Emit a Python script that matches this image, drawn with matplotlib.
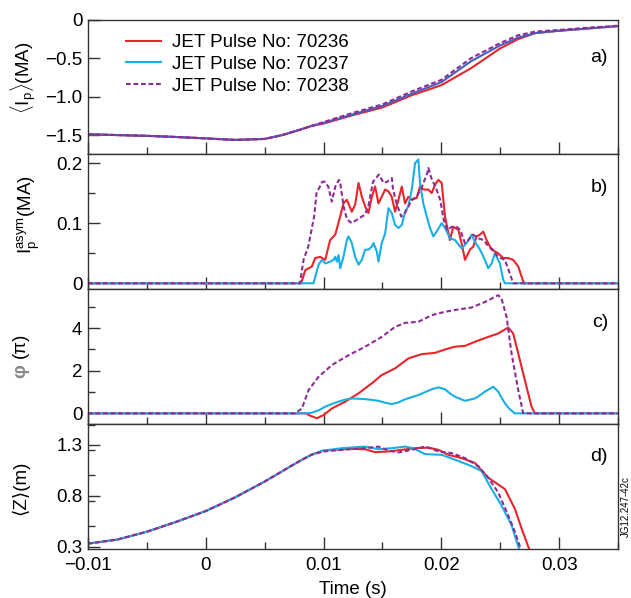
import matplotlib
matplotlib.use("Agg")
import matplotlib.pyplot as plt
from matplotlib.ticker import FixedLocator, MultipleLocator, FixedFormatter

plt.rcParams['font.family'] = ['Liberation Sans', 'DejaVu Sans']
plt.rcParams['mathtext.fontset'] = 'custom'
plt.rcParams['mathtext.rm'] = 'Liberation Sans'
plt.rcParams['mathtext.it'] = 'Liberation Sans:italic'

RED = '#e8252b'
CYAN = '#1aaee6'
PURPLE = '#8e2c96'
BLUE_A = '#4660c0'

pulses = ['70236', '70237', '70238']

# ---- panel a: <Ip> (MA)
a_t_common = [-0.01, -0.0075, -0.005, -0.0025, 0, 0.0025, 0.005, 0.0065, 0.008, 0.009]
a_v_common = [-1.49, -1.50, -1.51, -1.525, -1.543, -1.563, -1.55, -1.50, -1.43, -1.38]
a_t = [0.01, 0.0125, 0.015, 0.0175, 0.02, 0.0225, 0.025, 0.0265, 0.028, 0.03, 0.0325, 0.035]
a_236 = [-1.35, -1.24, -1.14, -0.98, -0.85, -0.63, -0.37, -0.25, -0.17, -0.14, -0.11, -0.08]
a_237 = [-1.34, -1.23, -1.12, -0.96, -0.81, -0.54, -0.33, -0.23, -0.17, -0.14, -0.11, -0.08]
a_238 = [-1.33, -1.21, -1.10, -0.93, -0.78, -0.50, -0.30, -0.20, -0.15, -0.13, -0.10, -0.075]

# ---- panel b: Ip asym (MA)
b_t_236 = [-0.01, 0.0081, 0.00845, 0.00873, 0.00901, 0.00929, 0.00972, 0.01014, 0.01056, 0.01099,
           0.01141, 0.01169, 0.01198, 0.0124, 0.01268, 0.01297, 0.01325, 0.01353, 0.01381, 0.0141,
           0.01438, 0.01466, 0.01494, 0.01523, 0.01551, 0.01579, 0.01607, 0.01636, 0.01664, 0.01692,
           0.0172, 0.01749, 0.01791, 0.01819, 0.01847, 0.0189, 0.01918, 0.01946, 0.01975, 0.02003,
           0.02031, 0.02073, 0.02102, 0.02144, 0.02172, 0.02201, 0.02243, 0.02271, 0.02299, 0.02328,
           0.02356, 0.02384, 0.02427, 0.02483, 0.02525, 0.02568, 0.0261, 0.02653, 0.02695, 0.02709, 0.035]
b_236 = [0, 0, 0.022, 0.025, 0.028, 0.042, 0.044, 0.039, 0.072, 0.081,
         0.111, 0.133, 0.139, 0.119, 0.131, 0.167, 0.144, 0.128, 0.117, 0.144,
         0.161, 0.133, 0.144, 0.156, 0.153, 0.144, 0.119, 0.139, 0.161, 0.133,
         0.144, 0.139, 0.142, 0.161, 0.156, 0.156, 0.150, 0.164, 0.172, 0.167,
         0.111, 0.072, 0.094, 0.089, 0.067, 0.039, 0.056, 0.061, 0.078, 0.081,
         0.086, 0.072, 0.056, 0.050, 0.042, 0.042, 0.039, 0.028, 0.003, 0, 0]
b_t_237 = [-0.01, 0.00915, 0.00958, 0.00986, 0.01014, 0.01056, 0.01085, 0.01099, 0.01113, 0.01127,
           0.01141, 0.01169, 0.01198, 0.01212, 0.0124, 0.01268, 0.01297, 0.01325, 0.01353, 0.01381,
           0.0141, 0.01424, 0.01452, 0.01466, 0.01494, 0.01523, 0.01551, 0.01579, 0.01607, 0.01636,
           0.01664, 0.01692, 0.0172, 0.01749, 0.01777, 0.01805, 0.01819, 0.01847, 0.01876, 0.01904,
           0.01932, 0.0196, 0.02003, 0.02031, 0.02073, 0.02116, 0.02172, 0.02215, 0.02257, 0.02285,
           0.02328, 0.0237, 0.02398, 0.02427, 0.02455, 0.02497, 0.02525, 0.0254, 0.035]
b_237 = [0, 0, 0.031, 0.039, 0.033, 0.036, 0.039, 0.044, 0.036, 0.047,
         0.025, 0.044, 0.072, 0.078, 0.067, 0.044, 0.031, 0.039, 0.056, 0.056,
         0.061, 0.067, 0.053, 0.036, 0.067, 0.083, 0.125, 0.117, 0.097, 0.092,
         0.097, 0.119, 0.128, 0.156, 0.200, 0.206, 0.167, 0.133, 0.111, 0.092,
         0.078, 0.086, 0.100, 0.092, 0.075, 0.072, 0.058, 0.067, 0.081, 0.069,
         0.056, 0.039, 0.025, 0.033, 0.050, 0.033, 0.006, 0, 0]
b_t_238 = [-0.01, 0.0080, 0.0083, 0.0087, 0.0092, 0.0094, 0.0099, 0.0101, 0.0104, 0.0107,
           0.0110, 0.0113, 0.0114, 0.0117, 0.0120, 0.0124, 0.0130, 0.0135, 0.0138, 0.0142,
           0.0147, 0.0151, 0.0154, 0.0158, 0.0159, 0.0162, 0.0166, 0.0169, 0.0175, 0.0179,
           0.0183, 0.0188, 0.0189, 0.0192, 0.0195, 0.0199, 0.0202, 0.0205, 0.0209, 0.0213,
           0.0216, 0.0220, 0.0223, 0.0227, 0.0231, 0.0236, 0.0240, 0.0244, 0.0248, 0.0254,
           0.0258, 0.0261, 0.035]
b_238 = [0, 0, 0.039, 0.061, 0.111, 0.150, 0.169, 0.169, 0.161, 0.136,
         0.161, 0.172, 0.169, 0.128, 0.106, 0.100, 0.108, 0.114, 0.128, 0.169,
         0.181, 0.167, 0.169, 0.175, 0.156, 0.133, 0.111, 0.117, 0.139, 0.144,
         0.158, 0.183, 0.192, 0.172, 0.161, 0.139, 0.106, 0.089, 0.094, 0.094,
         0.089, 0.067, 0.072, 0.081, 0.075, 0.072, 0.061, 0.056, 0.044, 0.039,
         0.017, 0, 0]

# ---- panel c: phi (pi)
c_t_236 = [-0.01, 0.0085, 0.00873, 0.00944, 0.0100, 0.01071, 0.01184, 0.01297, 0.0141, 0.01494,
           0.01607, 0.0172, 0.01833, 0.01946, 0.02031, 0.02116, 0.02201, 0.02285, 0.02398, 0.02483,
           0.02568, 0.0261, 0.02653, 0.02709, 0.02766, 0.02794, 0.035]
c_236 = [0, 0, -0.08, -0.23, -0.08, 0.23, 0.55, 0.94, 1.41, 1.80,
         2.11, 2.58, 2.78, 2.84, 3.00, 3.13, 3.17, 3.36, 3.59, 3.75,
         4.03, 3.75, 2.81, 1.56, 0.31, 0, 0]
c_t_237 = [-0.01, 0.0085, 0.00901, 0.0096, 0.01014, 0.0107, 0.01127, 0.0118, 0.0124, 0.01353,
           0.01466, 0.0152, 0.01579, 0.0163, 0.01692, 0.01805, 0.01918, 0.01975, 0.02031, 0.0207,
           0.02116, 0.02201, 0.02285, 0.0233, 0.0237, 0.02441, 0.02483, 0.0251, 0.0254, 0.0258,
           0.02624, 0.035]
c_237 = [0, 0, 0.03, 0.15, 0.31, 0.44, 0.55, 0.64, 0.70, 0.67,
         0.59, 0.50, 0.44, 0.50, 0.66, 0.86, 1.13, 1.22, 1.13, 0.95,
         0.78, 0.59, 0.70, 0.86, 1.02, 1.25, 1.02, 0.75, 0.47, 0.20,
         0, 0]
c_t_238 = [-0.01, 0.0076, 0.00816, 0.00873, 0.00958, 0.01071, 0.01212, 0.01353, 0.01494, 0.01607,
           0.01692, 0.01805, 0.01918, 0.02031, 0.02144, 0.02257, 0.0237, 0.02483, 0.02511, 0.02554,
           0.02596, 0.02653, 0.02695, 0.035]
c_238 = [0, 0, 0.23, 1.09, 1.72, 2.27, 2.73, 3.13, 3.59, 4.06,
         4.25, 4.30, 4.61, 4.77, 4.88, 4.97, 5.23, 5.55, 5.39, 4.53,
         2.81, 1.09, 0, 0]

# ---- panel d: <Z> (m)
d_t_common = [-0.01, -0.0075, -0.005, -0.0025, 0, 0.0025, 0.005, 0.0072, 0.0081, 0.009]
d_v_common = [0.33, 0.37, 0.447, 0.544, 0.65, 0.785, 0.94, 1.09, 1.15, 1.205]
d_t_236 = [0.01, 0.01212, 0.01353, 0.01438, 0.01551, 0.01664, 0.01777, 0.0189, 0.01975, 0.02059,
           0.02172, 0.02285, 0.02398, 0.0254, 0.02624, 0.02681, 0.02737, 0.0279]
d_236 = [1.245, 1.261, 1.258, 1.229, 1.236, 1.252, 1.268, 1.274, 1.252, 1.203,
         1.171, 1.123, 0.978, 0.866, 0.673, 0.480, 0.303, 0.15]
d_t_237 = [0.01, 0.01155, 0.01353, 0.01466, 0.01579, 0.01692, 0.01763, 0.01862, 0.02003, 0.02116,
           0.02257, 0.02342, 0.02427, 0.02511, 0.02596, 0.02653, 0.0269]
d_237 = [1.245, 1.268, 1.284, 1.258, 1.268, 1.284, 1.268, 1.210, 1.203, 1.155,
         1.091, 1.043, 0.866, 0.705, 0.512, 0.303, 0.15]
d_t_238 = [0.01, 0.01155, 0.01353, 0.01466, 0.01551, 0.01636, 0.01749, 0.01862, 0.01975, 0.02088,
           0.02201, 0.02314, 0.02398, 0.02483, 0.02568, 0.02624, 0.02667, 0.0271]
d_238 = [1.236, 1.252, 1.268, 1.284, 1.245, 1.226, 1.252, 1.284, 1.236, 1.220,
         1.171, 1.091, 0.978, 0.833, 0.608, 0.447, 0.303, 0.15]

x_ticks = [-0.01, 0, 0.01, 0.02, 0.03]
x_ticklabels = ['\u22120.01', '0', '0.01', '0.02', '0.03']
a_ticks = [0, -0.5, -1.0, -1.5]
a_ticklabels = ['0', '\u22120.5', '\u22121.0', '\u22121.5']
b_ticks = [0, 0.1, 0.2]
b_ticklabels = ['0', '0.1', '0.2']
c_ticks = [0, 2, 4]
c_ticklabels = ['0', '2', '4']
d_ticks = [0.3, 0.8, 1.3]
d_ticklabels = ['0.3', '0.8', '1.3']

W, H = 631, 598
fig = plt.figure(figsize=(W / 100, H / 100), dpi=100)

left = 88 / W
width = (618 - 88) / W
def box(top_px, bot_px):
    return [left, 1 - bot_px / H, width, (bot_px - top_px) / H]

ax_a = fig.add_axes(box(20, 153.5))
ax_b = fig.add_axes(box(153.5, 289), sharex=ax_a)
ax_c = fig.add_axes(box(289, 424), sharex=ax_a)
ax_d = fig.add_axes(box(424, 549), sharex=ax_a)

lw = 1.5
dash = (0, (2.3, 1.3))

ax_a.plot(a_t_common + a_t, a_v_common + a_236, color=RED, lw=lw)
ax_a.plot(a_t_common + a_t, a_v_common + a_237, color=BLUE_A, lw=lw)
ax_a.plot(a_t_common + a_t, a_v_common + a_238, color=PURPLE, lw=lw, ls=dash)

h1, = ax_b.plot(b_t_236, b_236, color=RED, lw=lw)
h2, = ax_b.plot(b_t_237, b_237, color=CYAN, lw=lw)
h3, = ax_b.plot(b_t_238, b_238, color=PURPLE, lw=lw, ls=dash)

ax_c.plot(c_t_236, c_236, color=RED, lw=lw)
ax_c.plot(c_t_237, c_237, color=CYAN, lw=lw)
ax_c.plot(c_t_238, c_238, color=PURPLE, lw=lw, ls=dash)

ax_d.plot(d_t_common + d_t_236, d_v_common + d_236, color=RED, lw=lw)
ax_d.plot(d_t_common + d_t_237, d_v_common + d_237, color=CYAN, lw=lw)
ax_d.plot(d_t_common + d_t_238, d_v_common + d_238, color=PURPLE, lw=lw, ls=dash)

ax_a.set_xlim(-0.01, 0.035)
ax_a.set_ylim(-1.74, 0)
ax_b.set_ylim(-0.0095, 0.216)
ax_c.set_ylim(-0.5, 5.84)
ax_d.set_ylim(0.277, 1.506)

for ax, ticks, labels, minor in [(ax_a, a_ticks, a_ticklabels, None),
                                 (ax_b, b_ticks, b_ticklabels, 0.05),
                                 (ax_c, c_ticks, c_ticklabels, 1),
                                 (ax_d, d_ticks, d_ticklabels, 0.25)]:
    ax.yaxis.set_major_locator(FixedLocator(ticks))
    ax.yaxis.set_major_formatter(FixedFormatter(labels))
    if minor:
        ax.yaxis.set_minor_locator(MultipleLocator(minor))
    else:
        ax.yaxis.set_minor_locator(FixedLocator([]))
    ax.xaxis.set_major_locator(FixedLocator(x_ticks))
    ax.xaxis.set_minor_locator(MultipleLocator(0.005))
    ax.tick_params(which='both', direction='in', top=False, right=False,
                   width=1.0, color='#333333', labelsize=13.5, pad=4)
    ax.tick_params(axis='x', pad=6)
    ax.tick_params(which='major', length=8.5)
    ax.tick_params(which='minor', length=5)
    for s in ax.spines.values():
        s.set_color('#333333')
        s.set_linewidth(1.0)
    if ax is not ax_d:
        ax.tick_params(labelbottom=False)

ax_d.xaxis.set_major_formatter(FixedFormatter(x_ticklabels))
ax_d.set_xlabel('Time (s)', fontsize=13.5, labelpad=5)

# y labels
ax_a.text(-0.122, 0.566, '$\\langle\\mathrm{I}_\\mathrm{p}\\rangle$(MA)', transform=ax_a.transAxes,
          rotation=90, ha='center', va='center', fontsize=13.5)
ax_b.text(-0.111, 0.546, 'I$_\\mathrm{p}^\\mathrm{asym}$(MA)', transform=ax_b.transAxes,
          rotation=90, ha='center', va='center', fontsize=13.5)
ax_c.text(-0.127, 0.393, '\u03c6', transform=ax_c.transAxes, color='#8a8a8a',
          rotation=90, ha='center', va='center', fontsize=14, fontweight='bold')
ax_c.text(-0.127, 0.585, '(\u03c0)', transform=ax_c.transAxes,
          rotation=90, ha='center', va='center', fontsize=13.5)
ax_d.text(-0.128, 0.488, '\u27e8Z\u27e9(m)', transform=ax_d.transAxes,
          rotation=90, ha='center', va='center', fontsize=13.5)

for ax, lab, y in [(ax_a, 'a)', 0.72), (ax_b, 'b)', 0.75), (ax_c, 'c)', 0.75), (ax_d, 'd)', 0.74)]:
    ax.text(0.981, y, lab, transform=ax.transAxes, ha='right', va='center', fontsize=14)

ax_a.legend([h1, h2, h3], ['JET Pulse No: ' + p for p in pulses],
            loc='upper left', bbox_to_anchor=(0.071, 0.895), frameon=False,
            fontsize=13.5, handlelength=1.87, handletextpad=0.6,
            labelspacing=0.25, borderpad=0, borderaxespad=0)

fig.text(626 / W, 1 - 537 / H, 'JG12.247-42c', rotation=90, ha='center', va='bottom', fontsize=7)

fig.savefig('out.png', dpi=100)
